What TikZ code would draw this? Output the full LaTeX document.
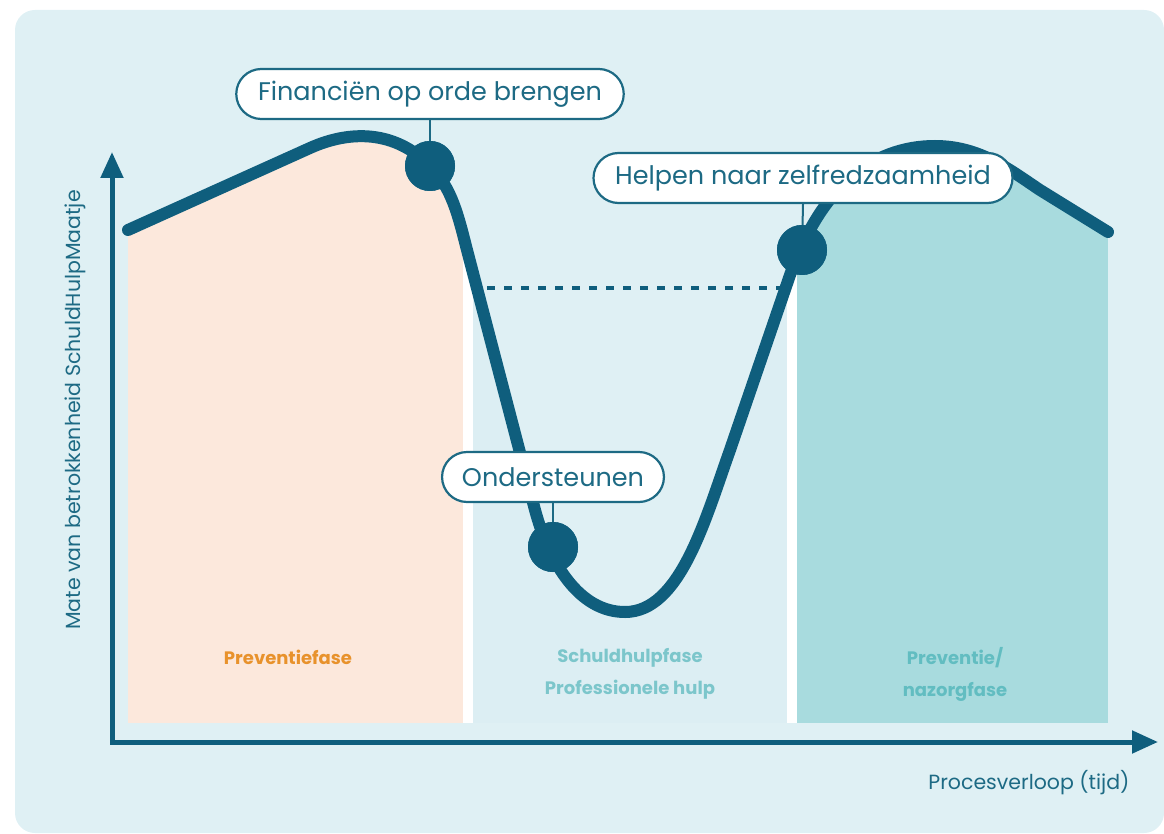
\documentclass[tikz,border=0pt]{standalone}
\usepackage{fontspec}
\setmainfont{Poppins}
\usetikzlibrary{arrows.meta,shapes.misc}
\definecolor{bgblue}{HTML}{DFF0F4}
\definecolor{peach}{HTML}{FCE8DC}
\definecolor{midblue}{HTML}{DCEEF3}
\definecolor{teal}{HTML}{A8DBDE}
\definecolor{curveblue}{HTML}{0F5E7D}
\definecolor{textblue}{HTML}{1D6A84}
\definecolor{orangetxt}{HTML}{E8922C}
\definecolor{midtxt}{HTML}{7CC6CB}
\definecolor{tealtxt}{HTML}{62BDC1}
\newcommand*{\bottom}{723}
\newcommand*{\curvepath}{(128,230) -- (310,148)
    .. controls (350,130) and (395,130) .. (430,166)
    .. controls (452,188) and (458,215) .. (467,250) -- (535,510)
    .. controls (550,565) and (580,612) .. (625,612)
    .. controls (680,612) and (705,520) .. (730,450) -- (790,275)
    .. controls (820,190) and (870,146) .. (935,146)
    .. controls (980,146) and (1010,170) .. (1040,190) -- (1108,232)}

\begin{document}
\begin{tikzpicture}[x=1pt, y=-1pt,
    label box/.style={rounded rectangle, draw=textblue, line width=2.2pt, fill=white,
        text=textblue, minimum height=50pt, inner xsep=18pt, font=\fontsize{25.5}{28}\selectfont},
    dot/.style={circle, fill=curveblue, minimum size=50pt, inner sep=0pt},
    phase/.style={align=center, font=\bfseries\fontsize{18}{32}\selectfont}]
    \useasboundingbox (0,0) rectangle (1164,834);
    \fill [bgblue, rounded corners=20pt] (15,10) rectangle (1164,833);
    % phase panels under the curve
    \begin{scope}
        \clip \curvepath -- (1108,\bottom) -- (128,\bottom) -- cycle;
        \fill [white] (128,100) rectangle (1108,\bottom);
        \fill [peach]   (128,100) rectangle (463,\bottom);
        \fill [midblue] (473,100) rectangle (787,\bottom);
        \fill [teal]    (797,100) rectangle (1108,\bottom);
    \end{scope}
    \node [phase, text=orangetxt] (prev) at (288,657) {Preventiefase};
    \node [phase, text=midtxt] (schuld) at (630,674) {Schuldhulpfase\\Professionele hulp};
    \node [phase, text=tealtxt] (nazorg) at (955,674) {Preventie/\\nazorgfase};
    % axes
    \draw [curveblue, line width=5pt, {Triangle[length=26pt,width=22pt]}-{Triangle[length=26pt,width=22pt]}]
        (112,152) -- (112,742) -- (1158,742);
    \node [rotate=90, text=textblue, font=\fontsize{20.5}{22}\selectfont] (ylab) at (75,410) {Mate van betrokkenheid SchuldHulpMaatje};
    \node [anchor=east, text=textblue, font=\fontsize{20.5}{22}\selectfont] (xlab) at (1133,783) {Procesverloop (tijd)};
    \draw [curveblue, line width=3pt, dash pattern=on 8pt off 9pt] (487,288) -- (780,288);
    % curve
    \draw [curveblue, line width=12pt, line cap=round] \curvepath;
    \node [dot] (dotfin) at (430,166) {};
    \node [dot] (dotond) at (553,547) {};
    \node [dot] (dothelp) at (802,250) {};
    \node [label box] (fin) at (430,94) {Financiën op orde brengen};
    \node [label box] (ond) at (553,477) {Ondersteunen};
    \node [label box] (help) at (803,178) {Helpen naar zelfredzaamheid};
    \draw [textblue, line width=2pt] (fin.south) -- (dotfin);
    \draw [textblue, line width=2pt] (ond.south) -- (dotond);
    \draw [textblue, line width=2pt] (help.south) -- (dothelp);
    \node [dot] at (dotfin) {};
    \node [dot] at (dotond) {};
    \node [dot] at (dothelp) {};
\end{tikzpicture}
\end{document}
